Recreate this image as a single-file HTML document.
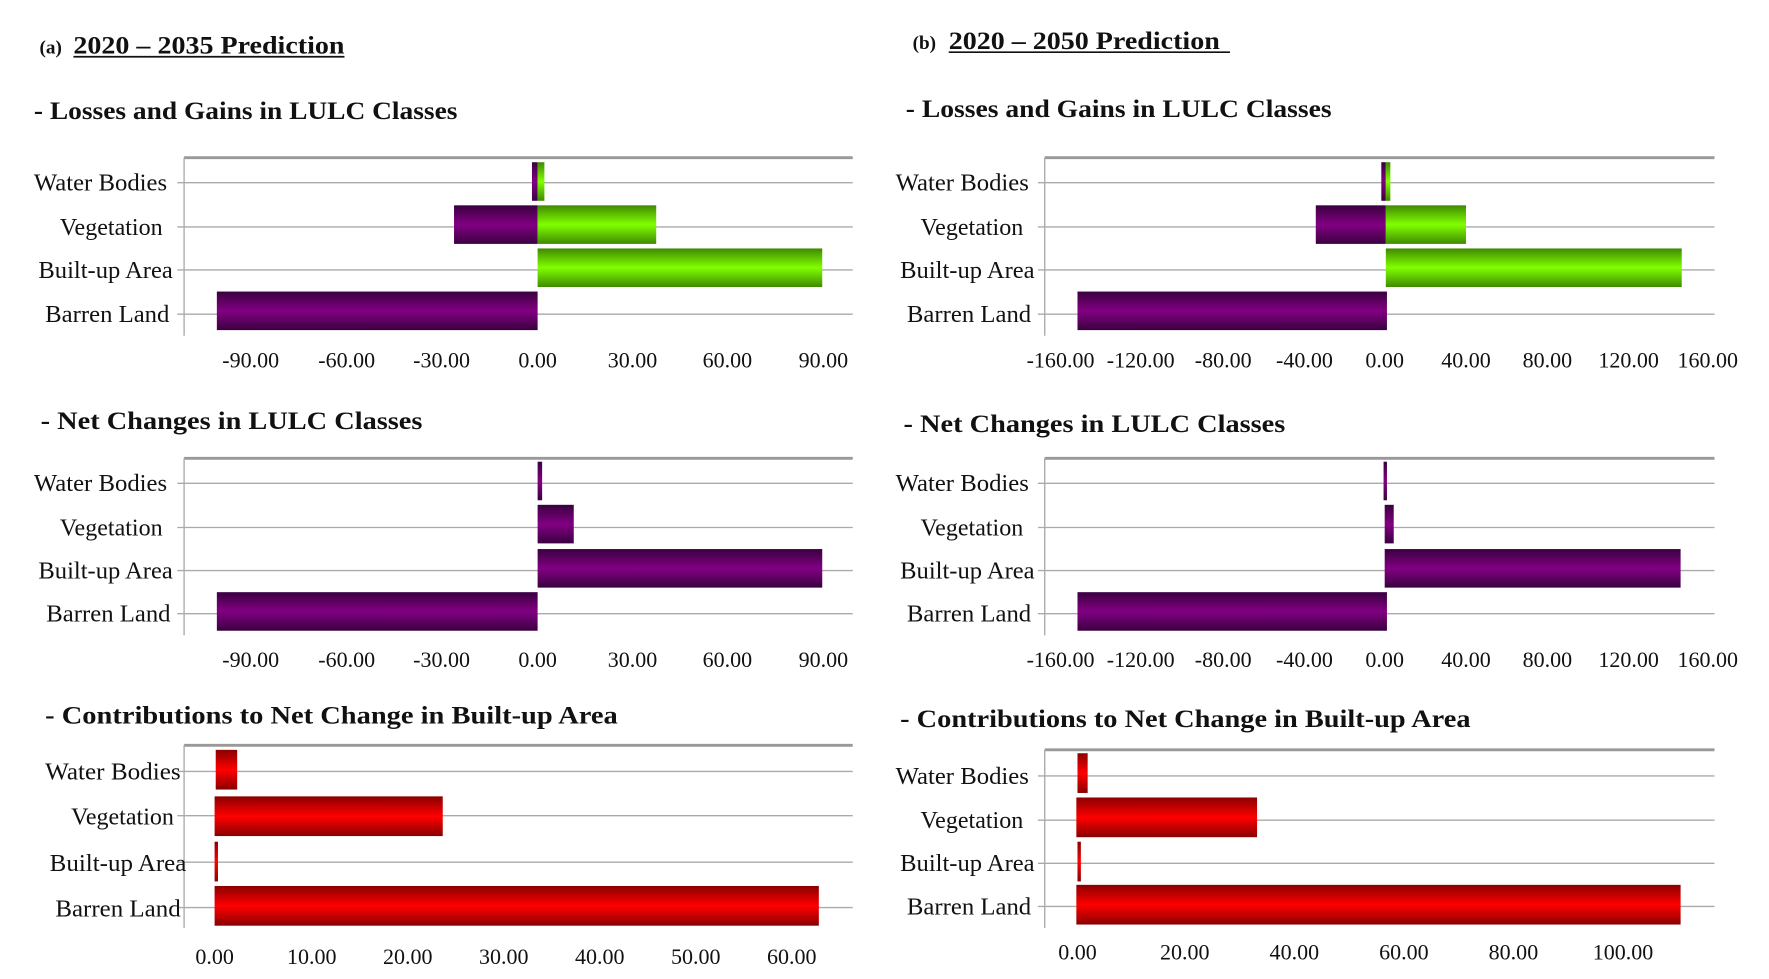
<!DOCTYPE html>
<html><head><meta charset="utf-8"><style>
html,body{margin:0;padding:0;background:#fff;}
svg{display:block}
text{font-family:"Liberation Serif",serif;fill:#111}
.t{font-weight:bold;font-size:22px}
.l{font-size:21px;text-anchor:end}
.k{font-size:19.5px;text-anchor:middle}
.g{stroke:#aaa;stroke-width:1.2}
.top{stroke:#999;stroke-width:2.5}
</style></head><body>
<svg width="1769" height="979" viewBox="0 0 1560 863" preserveAspectRatio="none">
<defs>
<linearGradient id="pu" x1="0" y1="0" x2="0" y2="1"><stop offset="0" stop-color="#3a0040"/><stop offset="0.5" stop-color="#820082"/><stop offset="1" stop-color="#3a0040"/></linearGradient>
<linearGradient id="gr" x1="0" y1="0" x2="0" y2="1"><stop offset="0" stop-color="#3f8a00"/><stop offset="0.5" stop-color="#80ff00"/><stop offset="1" stop-color="#3f8a00"/></linearGradient>
<linearGradient id="rd" x1="0" y1="0" x2="0" y2="1"><stop offset="0" stop-color="#8a0000"/><stop offset="0.5" stop-color="#ff0000"/><stop offset="1" stop-color="#8a0000"/></linearGradient>
</defs>
<g transform="scale(0.996,1)">
<text x="35" y="47" class="t" style="font-size:17px">(a)</text>
<text x="65" y="47" class="t" textLength="240" lengthAdjust="spacingAndGlyphs">2020 – 2035 Prediction</text>
<line x1="65" y1="50" x2="305" y2="50" stroke="#111" stroke-width="1.5"/>
<text x="808" y="43" class="t" style="font-size:17px">(b)</text>
<text x="840" y="43" class="t" textLength="240" lengthAdjust="spacingAndGlyphs">2020 – 2050 Prediction</text>
<line x1="840" y1="46" x2="1089" y2="46" stroke="#111" stroke-width="1.5"/>

<text x="30" y="105" class="t" textLength="375" lengthAdjust="spacingAndGlyphs">- Losses and Gains in LULC Classes</text>
<text x="802" y="103" class="t" textLength="377" lengthAdjust="spacingAndGlyphs">- Losses and Gains in LULC Classes</text>
<text x="36" y="378" class="t" textLength="338" lengthAdjust="spacingAndGlyphs">- Net Changes in LULC Classes</text>
<text x="800" y="381" class="t" textLength="338" lengthAdjust="spacingAndGlyphs">- Net Changes in LULC Classes</text>
<text x="40" y="638" class="t" textLength="507" lengthAdjust="spacingAndGlyphs">- Contributions  to Net Change in Built-up Area</text>
<text x="797" y="641" class="t" textLength="505" lengthAdjust="spacingAndGlyphs">- Contributions  to Net Change in Built-up Area</text>

<!-- chart a1 -->
<g>
<line class="top" x1="163" y1="139" x2="755" y2="139"/>
<line class="g" x1="163" y1="139" x2="163" y2="296"/>
<line class="g" x1="157" y1="161" x2="755" y2="161"/><line class="g" x1="157" y1="200" x2="755" y2="200"/>
<line class="g" x1="157" y1="238" x2="755" y2="238"/><line class="g" x1="157" y1="277" x2="755" y2="277"/>
<rect x="471" y="143" width="5" height="34" fill="url(#pu)"/><rect x="476" y="143" width="6" height="34" fill="url(#gr)"/>
<rect x="402" y="181" width="74" height="34" fill="url(#pu)"/><rect x="476" y="181" width="105" height="34" fill="url(#gr)"/>
<rect x="476" y="219" width="252" height="34" fill="url(#gr)"/>
<rect x="192" y="257" width="284" height="34" fill="url(#pu)"/>
<text class="l" x="148" y="168" textLength="118" lengthAdjust="spacingAndGlyphs">Water Bodies</text><text class="l" x="144" y="207" textLength="91" lengthAdjust="spacingAndGlyphs">Vegetation</text>
<text class="l" x="153" y="245" textLength="119" lengthAdjust="spacingAndGlyphs">Built-up  Area</text><text class="l" x="150" y="284" textLength="110" lengthAdjust="spacingAndGlyphs">Barren Land</text>
<g class="k"><text x="222" y="324">-90.00</text><text x="307" y="324">-60.00</text><text x="391" y="324">-30.00</text><text x="476" y="324">0.00</text><text x="560" y="324">30.00</text><text x="644" y="324">60.00</text><text x="729" y="324">90.00</text></g>
</g>

<!-- chart b1 -->
<g>
<line class="top" x1="925" y1="139" x2="1518" y2="139"/>
<line class="g" x1="925" y1="139" x2="925" y2="296"/>
<line class="g" x1="919" y1="161" x2="1518" y2="161"/><line class="g" x1="919" y1="200" x2="1518" y2="200"/>
<line class="g" x1="919" y1="238" x2="1518" y2="238"/><line class="g" x1="919" y1="277" x2="1518" y2="277"/>
<rect x="1223" y="143" width="4" height="34" fill="url(#pu)"/><rect x="1227" y="143" width="4" height="34" fill="url(#gr)"/>
<rect x="1165" y="181" width="62" height="34" fill="url(#pu)"/><rect x="1227" y="181" width="71" height="34" fill="url(#gr)"/>
<rect x="1227" y="219" width="262" height="34" fill="url(#gr)"/>
<rect x="954" y="257" width="274" height="34" fill="url(#pu)"/>
<text class="l" x="911" y="168" textLength="118" lengthAdjust="spacingAndGlyphs">Water Bodies</text><text class="l" x="906" y="207" textLength="91" lengthAdjust="spacingAndGlyphs">Vegetation</text>
<text class="l" x="916" y="245" textLength="119" lengthAdjust="spacingAndGlyphs">Built-up  Area</text><text class="l" x="913" y="284" textLength="110" lengthAdjust="spacingAndGlyphs">Barren Land</text>
<g class="k"><text x="939" y="324">-160.00</text><text x="1010" y="324">-120.00</text><text x="1083" y="324">-80.00</text><text x="1155" y="324">-40.00</text><text x="1226" y="324">0.00</text><text x="1298" y="324">40.00</text><text x="1370" y="324">80.00</text><text x="1442" y="324">120.00</text><text x="1512" y="324">160.00</text></g>
</g>

<!-- chart a2 -->
<g>
<line class="top" x1="163" y1="404" x2="755" y2="404"/>
<line class="g" x1="163" y1="404" x2="163" y2="560"/>
<line class="g" x1="157" y1="426" x2="755" y2="426"/><line class="g" x1="157" y1="465" x2="755" y2="465"/>
<line class="g" x1="157" y1="503" x2="755" y2="503"/><line class="g" x1="157" y1="541" x2="755" y2="541"/>
<rect x="476" y="407" width="4" height="34" fill="url(#pu)"/>
<rect x="476" y="445" width="32" height="34" fill="url(#pu)"/>
<rect x="476" y="484" width="252" height="34" fill="url(#pu)"/>
<rect x="192" y="522" width="284" height="34" fill="url(#pu)"/>
<text class="l" x="148" y="433" textLength="118" lengthAdjust="spacingAndGlyphs">Water Bodies</text><text class="l" x="144" y="472" textLength="91" lengthAdjust="spacingAndGlyphs">Vegetation</text>
<text class="l" x="153" y="510" textLength="119" lengthAdjust="spacingAndGlyphs">Built-up  Area</text><text class="l" x="151" y="548" textLength="110" lengthAdjust="spacingAndGlyphs">Barren Land</text>
<g class="k"><text x="222" y="588">-90.00</text><text x="307" y="588">-60.00</text><text x="391" y="588">-30.00</text><text x="476" y="588">0.00</text><text x="560" y="588">30.00</text><text x="644" y="588">60.00</text><text x="729" y="588">90.00</text></g>
</g>

<!-- chart b2 -->
<g>
<line class="top" x1="925" y1="404" x2="1518" y2="404"/>
<line class="g" x1="925" y1="404" x2="925" y2="560"/>
<line class="g" x1="919" y1="426" x2="1518" y2="426"/><line class="g" x1="919" y1="465" x2="1518" y2="465"/>
<line class="g" x1="919" y1="503" x2="1518" y2="503"/><line class="g" x1="919" y1="541" x2="1518" y2="541"/>
<rect x="1225" y="407" width="3" height="34" fill="url(#pu)"/>
<rect x="1226" y="445" width="8" height="34" fill="url(#pu)"/>
<rect x="1226" y="484" width="262" height="34" fill="url(#pu)"/>
<rect x="954" y="522" width="274" height="34" fill="url(#pu)"/>
<text class="l" x="911" y="433" textLength="118" lengthAdjust="spacingAndGlyphs">Water Bodies</text><text class="l" x="906" y="472" textLength="91" lengthAdjust="spacingAndGlyphs">Vegetation</text>
<text class="l" x="916" y="510" textLength="119" lengthAdjust="spacingAndGlyphs">Built-up  Area</text><text class="l" x="913" y="548" textLength="110" lengthAdjust="spacingAndGlyphs">Barren Land</text>
<g class="k"><text x="939" y="588">-160.00</text><text x="1010" y="588">-120.00</text><text x="1083" y="588">-80.00</text><text x="1155" y="588">-40.00</text><text x="1226" y="588">0.00</text><text x="1298" y="588">40.00</text><text x="1370" y="588">80.00</text><text x="1442" y="588">120.00</text><text x="1512" y="588">160.00</text></g>
</g>

<!-- chart a3 -->
<g>
<line class="top" x1="163" y1="657" x2="755" y2="657"/>
<line class="g" x1="163" y1="657" x2="163" y2="818"/>
<line class="g" x1="157" y1="680" x2="755" y2="680"/><line class="g" x1="157" y1="719" x2="755" y2="719"/>
<line class="g" x1="157" y1="760" x2="755" y2="760"/><line class="g" x1="157" y1="800" x2="755" y2="800"/>
<rect x="191" y="661" width="19" height="35" fill="url(#rd)"/>
<rect x="190" y="702" width="202" height="35" fill="url(#rd)"/>
<rect x="190" y="742" width="3" height="35" fill="url(#rd)"/>
<rect x="190" y="781" width="535" height="35" fill="url(#rd)"/>
<text class="l" x="160" y="687" textLength="120" lengthAdjust="spacingAndGlyphs">Water Bodies</text><text class="l" x="154" y="727" textLength="91" lengthAdjust="spacingAndGlyphs">Vegetation</text>
<text class="l" x="165" y="768" textLength="121" lengthAdjust="spacingAndGlyphs">Built-up  Area</text><text class="l" x="160" y="808" textLength="111" lengthAdjust="spacingAndGlyphs">Barren Land</text>
<g class="k"><text x="190" y="850">0.00</text><text x="276" y="850">10.00</text><text x="361" y="850">20.00</text><text x="446" y="850">30.00</text><text x="531" y="850">40.00</text><text x="616" y="850">50.00</text><text x="701" y="850">60.00</text></g>
</g>

<!-- chart b3 -->
<g>
<line class="top" x1="925" y1="661" x2="1518" y2="661"/>
<line class="g" x1="925" y1="661" x2="925" y2="818"/>
<line class="g" x1="919" y1="684" x2="1518" y2="684"/><line class="g" x1="919" y1="723" x2="1518" y2="723"/>
<line class="g" x1="919" y1="761" x2="1518" y2="761"/><line class="g" x1="919" y1="799" x2="1518" y2="799"/>
<rect x="954" y="664" width="9" height="35" fill="url(#rd)"/>
<rect x="953" y="703" width="160" height="35" fill="url(#rd)"/>
<rect x="954" y="742" width="3" height="35" fill="url(#rd)"/>
<rect x="953" y="780" width="535" height="35" fill="url(#rd)"/>
<text class="l" x="911" y="691" textLength="118" lengthAdjust="spacingAndGlyphs">Water Bodies</text><text class="l" x="906" y="730" textLength="91" lengthAdjust="spacingAndGlyphs">Vegetation</text>
<text class="l" x="916" y="768" textLength="119" lengthAdjust="spacingAndGlyphs">Built-up  Area</text><text class="l" x="913" y="806" textLength="110" lengthAdjust="spacingAndGlyphs">Barren Land</text>
<g class="k"><text x="954" y="846">0.00</text><text x="1049" y="846">20.00</text><text x="1146" y="846">40.00</text><text x="1243" y="846">60.00</text><text x="1340" y="846">80.00</text><text x="1437" y="846">100.00</text></g>
</g>
</g>
</svg>
</body></html>
